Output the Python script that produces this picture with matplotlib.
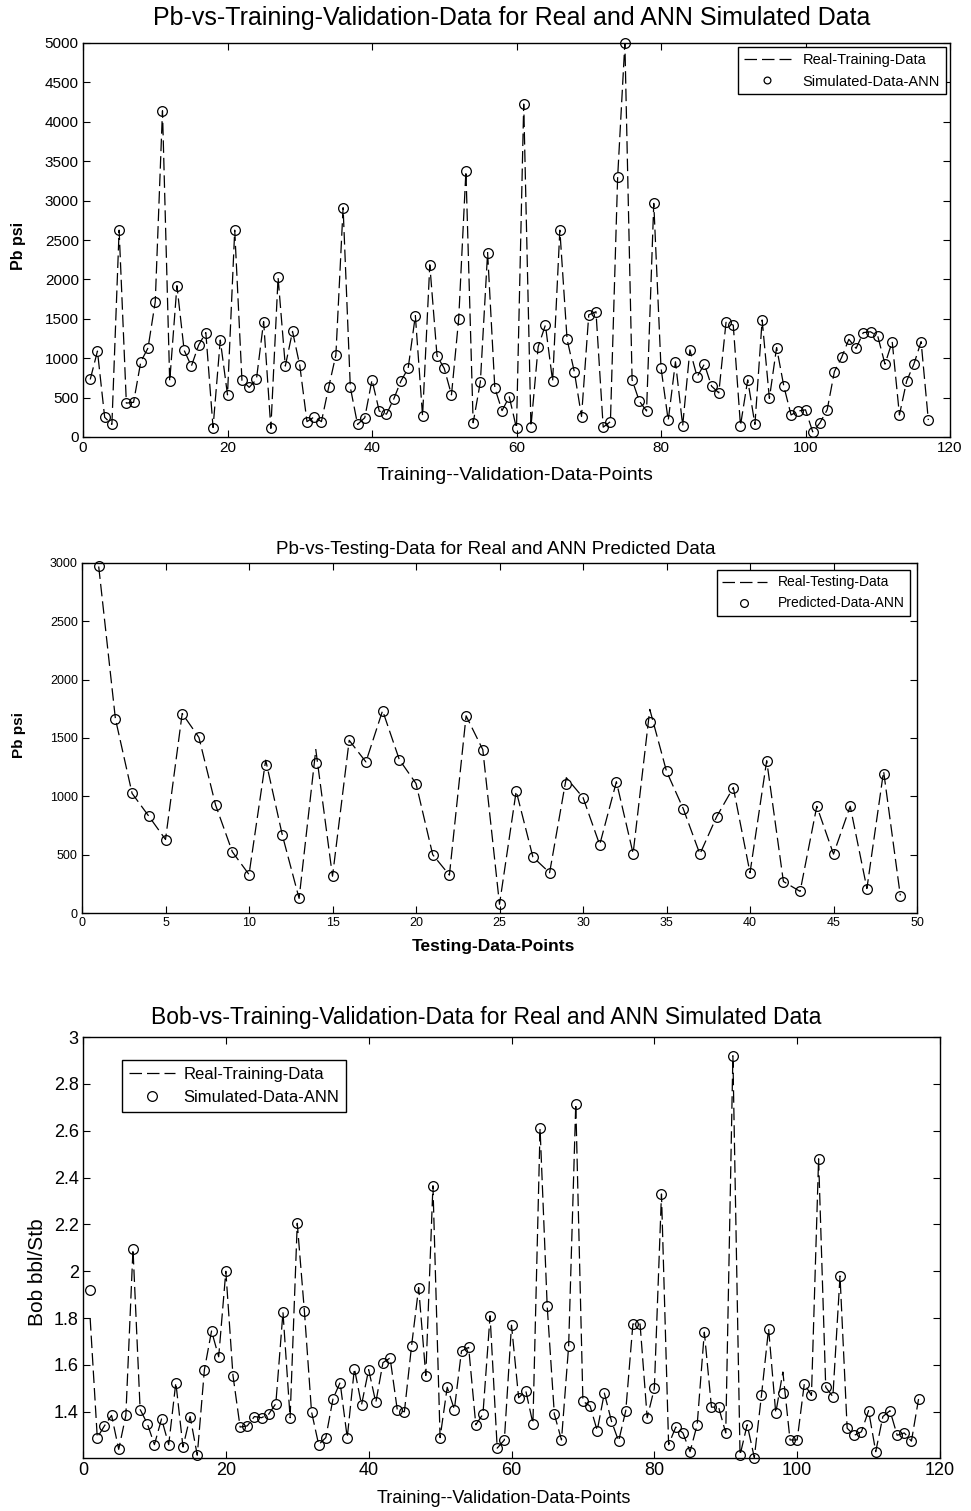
import numpy as np
import matplotlib
matplotlib.use('Agg')
import matplotlib.pyplot as plt
from matplotlib.ticker import FuncFormatter

plt.rcParams['font.family'] = ['Liberation Sans', 'DejaVu Sans']

# Panel 1: Pb, training/validation (117 points)
pb_train_ann = [730, 1090, 250, 160, 2625, 430, 440, 955, 1130, 1715,
                4140, 705, 1920, 1100, 900, 1165, 1325, 120, 1230, 535,
                2625, 720, 630, 730, 1465, 110, 2025, 900, 1340, 910,
                195, 255, 195, 630, 1040, 2910, 630, 160, 245, 725,
                330, 290, 480, 710, 870, 1540, 265, 2185, 1030, 870,
                535, 1500, 3375, 180, 700, 2340, 620, 335, 510, 110,
                4225, 130, 1145, 1420, 710, 2625, 1240, 830, 260, 1550,
                1590, 125, 195, 3300, 5000, 725, 455, 330, 2965, 880,
                210, 955, 145, 1105, 765, 925, 645, 560, 1455, 1420,
                145, 725, 160, 1485, 490, 1135, 645, 280, 330, 345,
                65, 180, 345, 830, 1010, 1240, 1125, 1325, 1335, 1280,
                925, 1210, 280, 710, 925, 1210, 215]
pb_train_real = list(pb_train_ann)

# Panel 2: Pb, testing (49 points)
pb_test_ann = [2970, 1665, 1025, 830, 630, 1710, 1505, 925, 525, 330,
               1265, 665, 125, 1290, 315, 1480, 1295, 1735, 1315, 1110,
               500, 325, 1690, 1400, 75, 1045, 480, 345, 1105, 990,
               585, 1125, 510, 1635, 1215, 895, 505, 825, 1075, 345,
               1305, 270, 185, 915, 505, 915, 210, 1190, 150]
pb_test_real = [2970, 1665, 1025, 830, 630, 1710, 1505, 925, 525, 330,
                1310, 665, 125, 1400, 315, 1480, 1295, 1735, 1315, 1110,
                500, 325, 1690, 1400, 75, 1045, 480, 345, 1160, 990,
                585, 1125, 510, 1745, 1215, 895, 505, 825, 1075, 345,
                1305, 270, 185, 915, 505, 915, 210, 1215, 150]

# Panel 3: Bob, training/validation (117 points)
bob_train_ann = [1.92, 1.29, 1.34, 1.385, 1.24, 1.385, 2.095, 1.41, 1.35, 1.26,
                 1.37, 1.26, 1.525, 1.25, 1.38, 1.215, 1.58, 1.745, 1.635, 2.00,
                 1.555, 1.335, 1.34, 1.38, 1.375, 1.39, 1.435, 1.825, 1.375, 2.205,
                 1.83, 1.40, 1.26, 1.29, 1.455, 1.525, 1.29, 1.585, 1.43, 1.58,
                 1.44, 1.61, 1.63, 1.41, 1.40, 1.68, 1.93, 1.555, 2.365, 1.29,
                 1.505, 1.41, 1.66, 1.675, 1.345, 1.39, 1.81, 1.245, 1.28, 1.77,
                 1.46, 1.49, 1.35, 2.61, 1.85, 1.39, 1.28, 1.68, 2.715, 1.445,
                 1.425, 1.32, 1.48, 1.36, 1.275, 1.405, 1.775, 1.775, 1.375, 1.50,
                 2.33, 1.26, 1.335, 1.31, 1.23, 1.345, 1.74, 1.42, 1.42, 1.31,
                 2.92, 1.215, 1.345, 1.205, 1.47, 1.755, 1.395, 1.48, 1.28, 1.28,
                 1.52, 1.47, 2.48, 1.505, 1.465, 1.98, 1.33, 1.30, 1.315, 1.405,
                 1.23, 1.38, 1.405, 1.30, 1.31, 1.275, 1.455]
bob_train_real = list(bob_train_ann)
bob_train_real[0] = 1.80
bob_train_real[97] = 1.57

fig = plt.figure(figsize=(9.71, 15.11), dpi=100)
W, H = 971, 1511


def make_ax(left, right, top, bottom):
    return fig.add_axes([left / W, 1 - bottom / H, (right - left) / W, (bottom - top) / H])


def style(ax, tsize):
    ax.tick_params(direction='in', top=True, right=True, length=5, width=0.8,
                   labelsize=tsize, pad=3)
    for s in ax.spines.values():
        s.set_linewidth(1.0)


def draw(ax, real, ann, lab_real, lab_ann):
    x = np.arange(1, len(real) + 1)
    ax.plot(x, real, color='black', linestyle=(0, (10, 4)), linewidth=0.9, label=lab_real)
    ax.plot(x, ann, linestyle='none', marker='o', markersize=7, markerfacecolor='none',
            markeredgecolor='black', markeredgewidth=0.9, clip_on=False, label=lab_ann)


# ---- panel 1
ax1 = make_ax(83, 950, 43, 437)
draw(ax1, pb_train_real, pb_train_ann, 'Real-Training-Data', 'Simulated-Data-ANN')
ax1.set_xlim(0, 120)
ax1.set_ylim(0, 5000)
ax1.set_xticks(range(0, 121, 20))
ax1.set_yticks(range(0, 5001, 500))
style(ax1, 11)
ax1.text(0.495, 1.033, 'Pb-vs-Training-Validation-Data for Real and ANN Simulated Data',
         transform=ax1.transAxes, ha='center', va='bottom', fontsize=18)
ax1.set_xlabel('Training--Validation-Data-Points', fontsize=14)
ax1.xaxis.set_label_coords(0.498, -0.075)
ax1.set_ylabel('Pb psi', fontsize=11.5, fontweight='bold')
ax1.yaxis.set_label_coords(-0.066, 0.485)
leg1 = ax1.legend(loc='upper right', fontsize=10.5, frameon=True, fancybox=False,
                  edgecolor='black', framealpha=1, borderaxespad=0.3, handlelength=3.2,
                  markerscale=0.7)
leg1.get_frame().set_linewidth(1.0)

# ---- panel 2
ax2 = make_ax(82, 917, 563, 913)
draw(ax2, pb_test_real, pb_test_ann, 'Real-Testing-Data', 'Predicted-Data-ANN')
ax2.set_xlim(0, 50)
ax2.set_ylim(0, 3000)
ax2.set_xticks(range(0, 51, 5))
ax2.set_yticks(range(0, 3001, 500))
style(ax2, 9)
ax2.text(0.496, 1.014, 'Pb-vs-Testing-Data for Real and ANN Predicted Data',
         transform=ax2.transAxes, ha='center', va='bottom', fontsize=13.5)
ax2.set_xlabel('Testing-Data-Points', fontsize=12.5, fontweight='bold')
ax2.xaxis.set_label_coords(0.493, -0.075)
ax2.set_ylabel('Pb psi', fontsize=11, fontweight='bold')
ax2.yaxis.set_label_coords(-0.067, 0.509)
leg2 = ax2.legend(loc='upper right', fontsize=10, frameon=True, fancybox=False,
                  edgecolor='black', framealpha=1, borderaxespad=0.5, handlelength=3.2,
                  markerscale=0.8)
leg2.get_frame().set_linewidth(1.0)

# ---- panel 3
ax3 = make_ax(83, 940, 1037, 1458)
draw(ax3, bob_train_real, bob_train_ann, 'Real-Training-Data', 'Simulated-Data-ANN')
ax3.set_xlim(0, 120)
ax3.set_ylim(1.203, 3.0)
ax3.set_xticks(range(0, 121, 20))
ax3.set_yticks(np.arange(1.4, 3.01, 0.2))
ax3.yaxis.set_major_formatter(FuncFormatter(lambda v, p: f'{v:g}'))
style(ax3, 13)
ax3.text(0.470, 1.019, 'Bob-vs-Training-Validation-Data for Real and ANN Simulated Data',
         transform=ax3.transAxes, ha='center', va='bottom', fontsize=16.5)
ax3.set_xlabel('Training--Validation-Data-Points', fontsize=13)
ax3.xaxis.set_label_coords(0.491, -0.076)
ax3.set_ylabel('Bob bbl/Stb', fontsize=15)
ax3.yaxis.set_label_coords(-0.042, 0.442)
leg3 = ax3.legend(loc='upper left', bbox_to_anchor=(0.0455, 0.945), fontsize=12,
                  frameon=True, fancybox=False, edgecolor='black', framealpha=1,
                  borderaxespad=0, handlelength=2.8, handletextpad=0.5)
leg3.get_frame().set_linewidth(1.0)

fig.savefig('out.png', dpi=100)
